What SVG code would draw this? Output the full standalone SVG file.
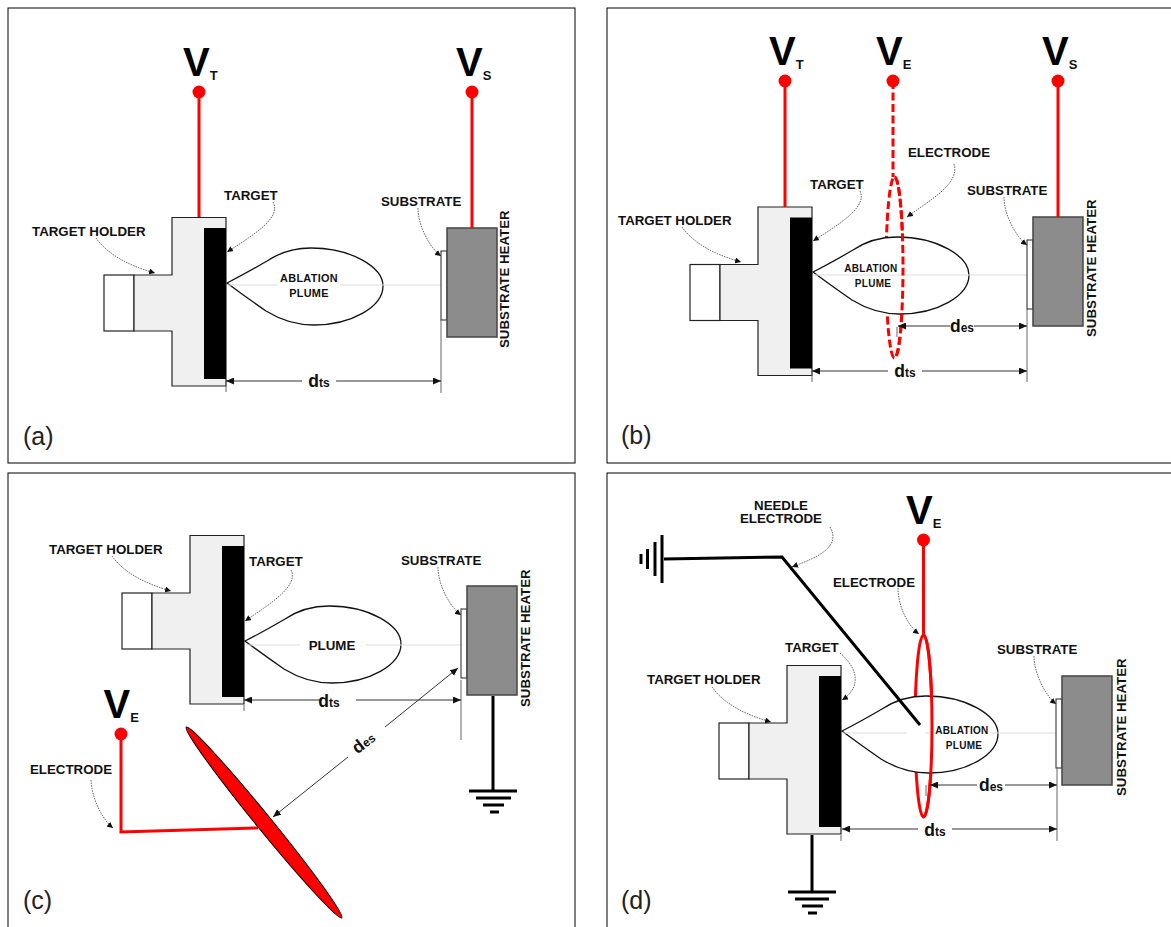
<svg xmlns="http://www.w3.org/2000/svg" width="1171" height="927" viewBox="0 0 1171 927">
<style>
text{font-family:"Liberation Sans",Arial,sans-serif;fill:#111}
.l{font-size:13.3px;font-weight:bold}
.m{text-anchor:middle}
.p{font-size:10px;font-weight:bold;text-anchor:middle;letter-spacing:.3px}
.pa{font-size:10.9px}
.V{font-size:40px;font-weight:bold;fill:#000}
.vs{font-size:13px;font-weight:bold}
.d{font-size:17.5px;font-weight:bold;text-anchor:middle}
.d tspan{font-size:12px}
.t{font-size:25px;fill:#222}
.frame{fill:none;stroke:#000;stroke-width:1}
.body{fill:#f0f0f0;stroke:#222;stroke-width:1.2}
.back{fill:#fff;stroke:#222;stroke-width:1.2}
.heat{fill:#8c8c8c;stroke:#444;stroke-width:1.5}
.sub{fill:#fff;stroke:#222;stroke-width:1}
.plume{fill:#fff;stroke:#111;stroke-width:1.3}
.axis{fill:none;stroke:#ddd;stroke-width:1}
.red{fill:none;stroke:#f00;stroke-width:3}
.redd{fill:none;stroke:#f00;stroke-width:3;stroke-dasharray:8 3.5}
.lead{fill:none;stroke:#444;stroke-width:.8;stroke-dasharray:1.6 1;marker-end:url(#sa)}
.dim{fill:none;stroke:#333;stroke-width:1}
.ext{fill:none;stroke:#666;stroke-width:1}
.gnd{fill:none;stroke:#000;stroke-width:3}
</style>
<defs>
<marker id="sa" markerUnits="userSpaceOnUse" markerWidth="7" markerHeight="6" refX="6" refY="3" orient="auto"><path d="M0 0L6 3L0 6Z" fill="#111"/></marker>
<marker id="ae" markerUnits="userSpaceOnUse" markerWidth="9" markerHeight="8" refX="8" refY="3.5" orient="auto"><path d="M0 0L8 3.5L0 7Z" fill="#111"/></marker>
<marker id="as" markerUnits="userSpaceOnUse" markerWidth="9" markerHeight="8" refX="0" refY="3.5" orient="auto"><path d="M8 0L0 3.5L8 7Z" fill="#111"/></marker>
<g id="holderShape">
<rect class="back" x="104" y="275" width="30" height="56"/>
<path class="body" d="M134 275H172V217.5H226V386H172V331H134Z"/>
<rect x="204" y="228" width="22" height="151" fill="#000"/>
</g>
<g id="heaterShape">
<rect class="sub" x="0" y="23" width="6" height="69"/>
<rect class="heat" x="6" y="0" width="50" height="109"/>
</g>
<path id="plumeShape" class="plume" d="M0 0C12-6 28-15 40-22C52-30 68-35 84-35C124-35 156-16 156 3C156 24 124 42 87 42C68 42 52 36 39 28C26 19 12 9 0 0Z"/>
</defs>

<g id="frames">
<rect class="frame" x="8" y="8" width="567" height="455"/>
<rect class="frame" x="607" y="8" width="580" height="455"/>
<rect class="frame" x="8" y="473" width="567" height="470"/>
<rect class="frame" x="607" y="473" width="580" height="470"/>
</g>

<!-- panel a -->
<g id="a-target-holder"><use href="#holderShape"/><text class="l" x="32" y="236">TARGET HOLDER</text><text class="l" x="224" y="200">TARGET</text></g>
<g id="a-plume"><use href="#plumeShape" x="227" y="283"/><path class="axis" d="M228 285H278M340 285H441"/><text class="p pa" x="309" y="282">ABLATION</text><text class="p pa" x="309" y="297">PLUME</text></g>
<g id="a-substrate"><use href="#heaterShape" x="441" y="228"/><text class="l" x="381" y="206">SUBSTRATE</text><text class="l" transform="translate(509 348) rotate(-90)">SUBSTRATE HEATER</text></g>
<g id="a-vt"><circle cx="199" cy="92" r="6.5" fill="#f00"/><text class="V" x="183" y="76">V</text><text class="vs" x="209.800" y="80">T</text></g>
<g id="a-vs"><circle cx="472" cy="92" r="6.5" fill="#f00"/><text class="V" x="456" y="76">V</text><text class="vs" x="482.800" y="80">S</text></g>
<g id="a-connectors">
<path class="red" d="M199 92V217M472 92V228"/>
<path class="lead" d="M96 238C108 255 130 266 155 273"/>
<path class="lead" d="M273 202C282 218 252 236 227 252"/>
<path class="lead" d="M418 208C418 226 430 248 441 256"/>
<path class="ext" d="M226 386V392M441 320V393"/>
<path class="dim" marker-start="url(#as)" d="M226 381H302"/><path class="dim" marker-end="url(#ae)" d="M336 381H441"/>
<text class="d" x="319" y="387">d<tspan>ts</tspan></text>
</g>
<text class="t" x="23" y="445">(a)</text>

<!-- panel b -->
<g id="b-electrode-back"><ellipse class="redd" cx="894.5" cy="267.500" rx="8.500" ry="90.500"/><path class="redd" d="M893 81V177"/></g>
<g id="b-target-holder" transform="translate(586 -10.500)"><use href="#holderShape"/></g>
<text class="l" x="618" y="225">TARGET HOLDER</text><text class="l" x="810" y="189">TARGET</text>
<g id="b-plume"><use href="#plumeShape" x="813" y="272"/><path class="axis" d="M814 275H1027"/>
<path class="redd" d="M894.500 177A8.500 90.500 0 0 1 894.500 358"/>
<text class="p" x="871" y="272">ABLATION</text><text class="p" x="873" y="287">PLUME</text></g>
<g id="b-substrate"><use href="#heaterShape" x="1027" y="217"/><text class="l" x="967" y="195">SUBSTRATE</text><text class="l" transform="translate(1096 337) rotate(-90)">SUBSTRATE HEATER</text></g>
<g id="b-vt"><circle cx="785" cy="81" r="6.5" fill="#f00"/><text class="V" x="769" y="65">V</text><text class="vs" x="795.800" y="69">T</text></g>
<g id="b-ve"><circle cx="893" cy="81" r="6.5" fill="#f00"/><text class="V" x="876" y="65">V</text><text class="vs" x="902.800" y="69">E</text></g>
<g id="b-vs"><circle cx="1058" cy="81" r="6.5" fill="#f00"/><text class="V" x="1042" y="65">V</text><text class="vs" x="1068.800" y="69">S</text></g>
<text class="l" x="908" y="157">ELECTRODE</text>
<g id="b-connectors">
<path class="red" d="M785 81V207M1058 81V217"/>
<path class="lead" d="M682 227C694 244 716 255 741 262"/>
<path class="lead" d="M860 191C868 207 838 225 813 241"/>
<path class="lead" d="M954 164C960 184 930 200 907 217"/>
<path class="lead" d="M1004 197C1004 215 1016 237 1027 245"/>
<path class="ext" d="M812 375V382M1027 309V382M897 327V337"/>
<path class="dim" marker-start="url(#as)" d="M812 371H888"/><path class="dim" marker-end="url(#ae)" d="M922 371H1027"/>
<path class="dim" marker-start="url(#as)" d="M898 326H950"/><path class="dim" marker-end="url(#ae)" d="M974 326H1027"/>
<text class="d" x="905" y="377">d<tspan>ts</tspan></text>
<text class="d" x="962" y="332">d<tspan>es</tspan></text>
</g>
<text class="t" x="621" y="444">(b)</text>

<!-- panel c -->
<g id="c-target-holder" transform="translate(18 318)"><use href="#holderShape"/></g>
<text class="l" x="49" y="554">TARGET HOLDER</text><text class="l" x="249" y="566">TARGET</text>
<g id="c-plume"><use href="#plumeShape" x="245" y="641"/><path class="axis" d="M246 645H300M366 645H461"/><text class="l m" x="332" y="650">PLUME</text></g>
<g id="c-substrate"><use href="#heaterShape" x="461" y="586"/><text class="l" x="401" y="565">SUBSTRATE</text><text class="l" transform="translate(530 707) rotate(-90)">SUBSTRATE HEATER</text></g>
<g id="c-ve"><circle cx="121" cy="734" r="6.500" fill="#f00"/><text class="V" x="103.500" y="718">V</text><text class="vs" x="130.300" y="722">E</text></g>
<text class="l" x="30" y="774">ELECTRODE</text>
<g id="c-electrode"><path class="red" d="M121 734V832L258 828"/><ellipse cx="264" cy="822.500" rx="123" ry="7.500" transform="rotate(50.800 264 822.500)" fill="#f00" stroke="#000" stroke-width="1"/></g>
<g id="c-connectors">
<path class="lead" d="M91 780C92 800 103 820 113 828"/>
<path class="lead" d="M112 556C124 573 146 584 171 591"/>
<path class="lead" d="M291 570C299 586 270 604 245 621"/>
<path class="lead" d="M438 567C438 585 450 607 461 615"/>
<path class="ext" d="M244 705V711M461 680V740"/>
<path class="dim" marker-start="url(#as)" d="M244 700H322"/><path class="dim" marker-end="url(#ae)" d="M356 700H461"/>
<text class="d" x="329" y="707">d<tspan>ts</tspan></text>
<path class="dim" marker-end="url(#ae)" d="M348 757L273 817"/><path class="dim" marker-end="url(#ae)" d="M385 727L458 668"/>
<text class="d" transform="translate(367 747) rotate(-38)">d<tspan>es</tspan></text>
<path class="gnd" d="M493 696V791M469 791H517"/><path class="gnd" d="M476 798H511M483 805H504M490 812H499"/>
</g>
<text class="t" x="23" y="909">(c)</text>

<!-- panel d -->
<g id="d-electrode-back"><ellipse class="red" cx="923.500" cy="726" rx="8.500" ry="91"/><path class="red" d="M923.500 540V635"/></g>
<g id="d-target-holder" transform="translate(615 448)"><use href="#holderShape"/></g>
<text class="l" x="647" y="684">TARGET HOLDER</text><text class="l" x="785" y="652">TARGET</text>
<g id="d-plume"><use href="#plumeShape" x="842" y="731"/><path class="axis" d="M843 733H907M925 733H936M990 733H1056"/>
<path class="red" d="M923.500 635A8.500 91 0 0 1 923.500 817"/>
<text class="p" x="962" y="734">ABLATION</text><text class="p" x="964" y="749">PLUME</text></g>
<g id="d-substrate"><use href="#heaterShape" x="1056" y="676"/><text class="l" x="997" y="654">SUBSTRATE</text><text class="l" transform="translate(1126 796) rotate(-90)">SUBSTRATE HEATER</text></g>
<g id="d-ve"><circle cx="923.500" cy="540" r="6.500" fill="#f00"/><text class="V" x="906" y="524">V</text><text class="vs" x="932.800" y="528">E</text></g>
<text class="l" x="833" y="587">ELECTRODE</text>
<g id="d-needle"><path fill="none" stroke="#000" stroke-width="3" d="M664 559L782 557L920 725"/><path fill="none" stroke="#000" d="M662 535V583" stroke-width="3"/><path class="gnd" d="M655 542V576M647.500 549V569M641 554V564"/><text class="l m" x="781" y="510">NEEDLE</text><text class="l m" x="781" y="523">ELECTRODE</text></g>
<g id="d-connectors">
<path class="lead" d="M830 527C842 548 815 558 792 567"/>
<path class="lead" d="M898 588C898 606 908 626 919 634"/>
<path class="lead" d="M840 653C862 672 858 690 842 700"/>
<path class="lead" d="M712 687C724 704 746 715 771 722"/>
<path class="lead" d="M1034 656C1034 674 1046 696 1056 704"/>
<path class="ext" d="M841 835V841M1057 768V841M926 785V796"/>
<path class="dim" marker-start="url(#as)" d="M842 829H918"/><path class="dim" marker-end="url(#ae)" d="M952 829H1057"/>
<path class="dim" marker-start="url(#as)" d="M930 785H977"/><path class="dim" marker-end="url(#ae)" d="M1005 785H1057"/>
<text class="d" x="935" y="836">d<tspan>ts</tspan></text>
<text class="d" x="991" y="791">d<tspan>es</tspan></text>
<path class="gnd" d="M812 835V892M788 892H836"/><path class="gnd" d="M795 899H829M802 906H823M808 913H817"/>
</g>
<text class="t" x="621" y="909">(d)</text>
</svg>
